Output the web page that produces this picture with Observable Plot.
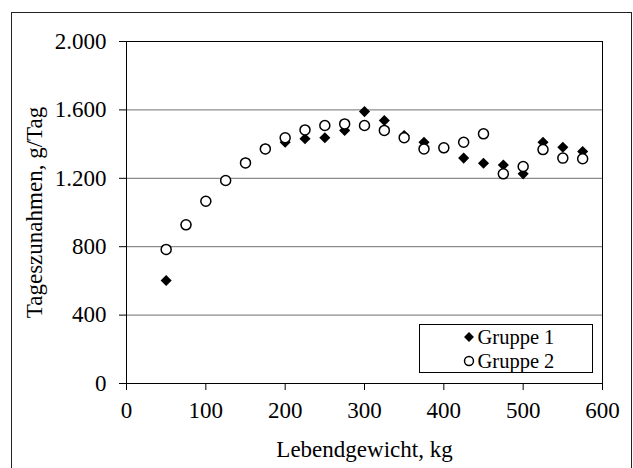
<!DOCTYPE html>
<html><head><meta charset="utf-8">
<script src="https://cdn.jsdelivr.net/npm/d3@7"></script>
<script src="https://cdn.jsdelivr.net/npm/@observablehq/plot@0.6"></script>
<style>
body{margin:0;background:#fff;}
#wrap{position:relative;width:633px;height:468px;overflow:hidden;}
</style></head><body><div id="wrap"></div>
<script>
const weights = [50,75,100,125,150,175,200,225,250,275,300,325,350,375,400,425,450,475,500,525,550,575];
const gruppe1 = [602,928,1066,1187,1290,1372,1411,1431,1437,1480,1590,1538,1450,1411,1378,1318,1288,1278,1226,1411,1382,1357];
const gruppe2 = [784,928,1066,1187,1290,1372,1437,1483,1509,1518,1509,1480,1437,1372,1378,1411,1460,1226,1269,1368,1318,1314];
const seriesNames = ["Gruppe 1","Gruppe 2"];
const xTicks = [0,100,200,300,400,500,600];
const yTicks = [0,400,800,1200,1600,2000];
const yTickLabels = ["0","400","800","1.200","1.600","2.000"];
const xLabel = "Lebendgewicht, kg";
const yLabel = "Tageszunahmen, g/Tag";

const data1 = weights.map((w,i)=>({w, v:gruppe1[i]}));
const data2 = weights.map((w,i)=>({w, v:gruppe2[i]}));
const font = "'Liberation Serif','Times New Roman',serif";

const chart = Plot.plot({
  width:633, height:468,
  marginLeft:126, marginRight:31, marginTop:41, marginBottom:85,
  style:{fontFamily:font, fontSize:"23px", color:"#000", background:"#fff", overflow:"visible"},
  x:{domain:[0,600]},
  y:{domain:[0,2000]},
  marks:[
    Plot.ruleY(yTicks.filter(d=>d>0&&d<2000), {stroke:"#707070", strokeOpacity:1}),
    Plot.frame({stroke:"#000", strokeOpacity:1}),
    Plot.axisX({ticks:xTicks, tickSize:7, tickPadding:11, fontSize:23, label:xLabel, labelAnchor:"center", labelArrow:"none", labelOffset:73, strokeOpacity:1}),
    Plot.axisY({ticks:yTicks, tickFormat:d=>yTickLabels[yTicks.indexOf(d)], tickSize:7, tickPadding:13, fontSize:23, label:yLabel, labelAnchor:"center", labelArrow:"none", labelOffset:101, strokeOpacity:1}),
    Plot.dot(data1, {x:"w", y:"v", symbol:"diamond2", r:5, fill:"#000", stroke:null}),
    Plot.dot(data2, {x:"w", y:"v", symbol:"circle", r:5, fill:"#fff", stroke:"#000", strokeWidth:1.5})
  ]
});
document.getElementById("wrap").appendChild(chart);

// outer chart border
const svg = d3.select(chart);
svg.append("rect").attr("x",11.5).attr("y",12.5).attr("width",620).attr("height",470)
  .attr("fill","none").attr("stroke","#222");

// legend
const lg = svg.append("g").attr("transform","translate(419.5,324.5)");
lg.append("rect").attr("width",173).attr("height",48).attr("fill","#fff").attr("stroke","#000");
const sym = [d3.symbol(d3.symbolDiamond2, Math.PI*20)(), d3.symbol(d3.symbolCircle, Math.PI*20)()];
seriesNames.forEach((name,i)=>{
  const row = lg.append("g").attr("transform",`translate(0,${12.5+i*24})`);
  row.append("path").attr("d",sym[i]).attr("transform","translate(49.5,0)")
    .attr("fill", i===0?"#000":"#fff").attr("stroke", i===0?"none":"#000").attr("stroke-width",1.5);
  row.append("text").attr("x",58).attr("y",0).attr("dy","0.32em").attr("text-anchor","start")
    .attr("font-family",font).attr("font-size",20.5).attr("fill","#000").text(name);
});
</script></body></html>
